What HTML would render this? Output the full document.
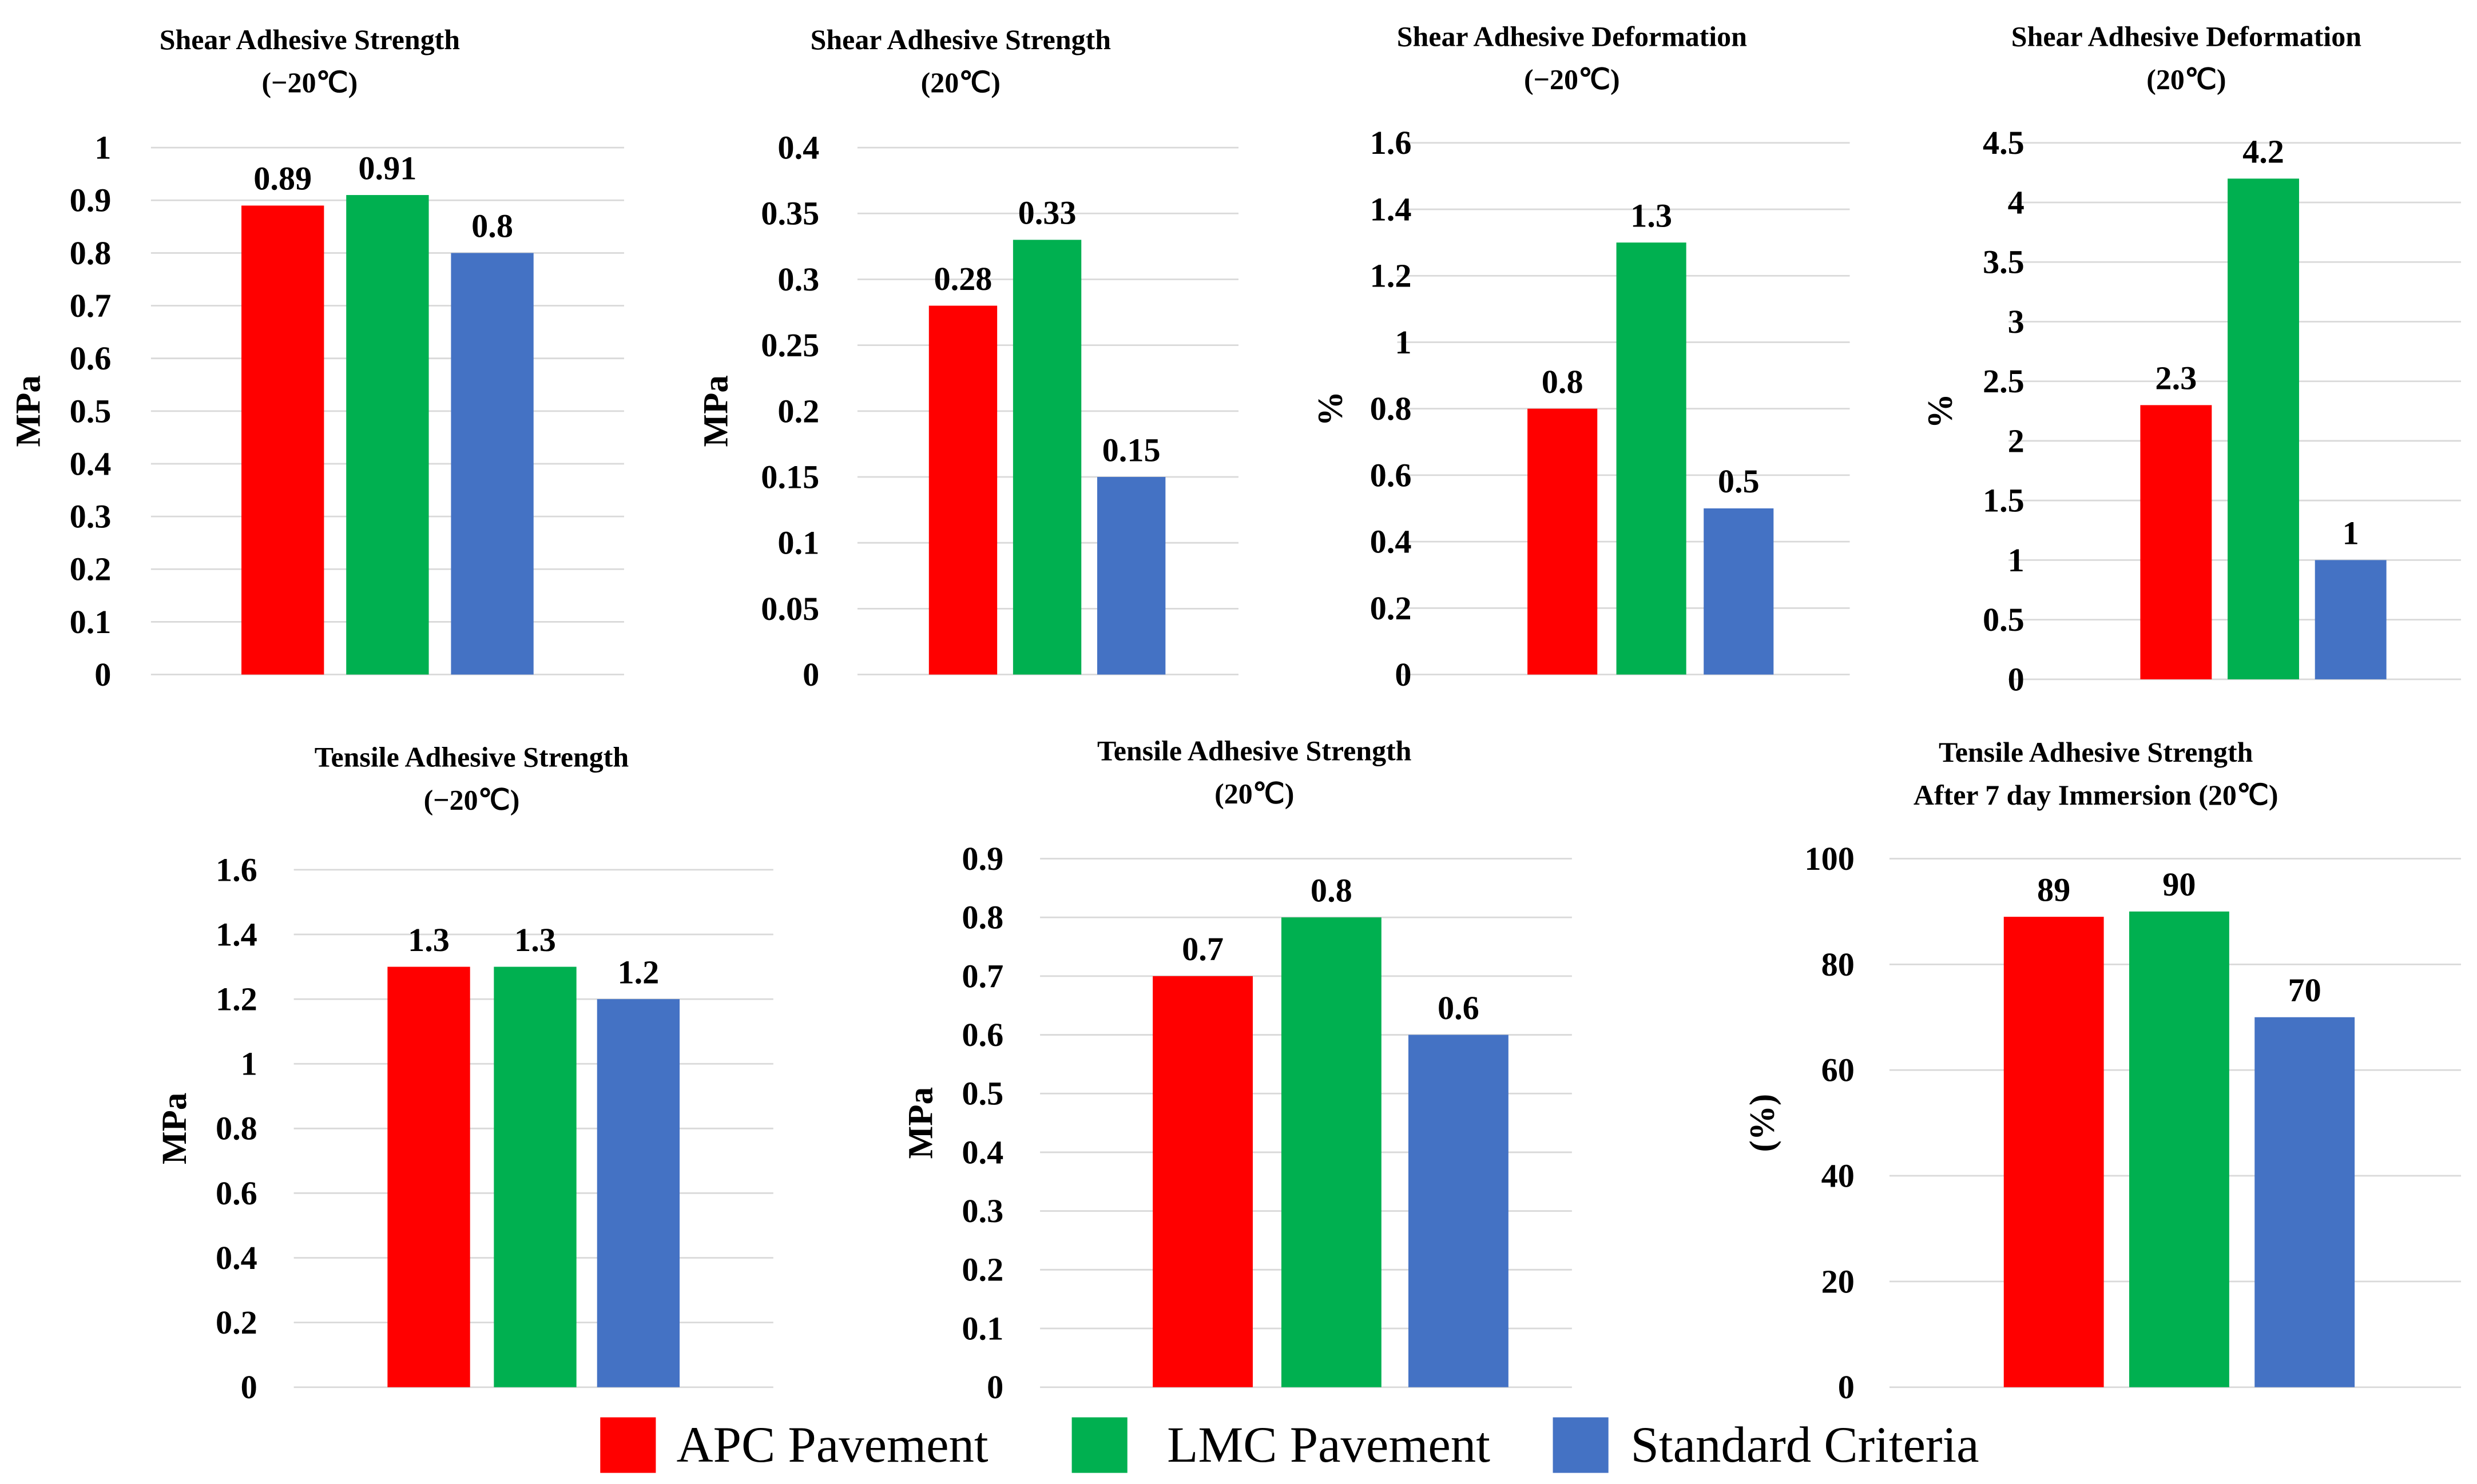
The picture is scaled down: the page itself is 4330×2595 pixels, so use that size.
<!DOCTYPE html>
<html><head><meta charset="utf-8"><style>
html,body{margin:0;padding:0;background:#fff}
svg{display:block;font-family:"Liberation Serif",serif}
</style></head><body>
<svg id="s" width="4330" height="2595" viewBox="0 0 1560 935" xmlns="http://www.w3.org/2000/svg"></svg>
<script>
const seriesNames = ["APC Pavement","LMC Pavement","Standard Criteria"];
const colors = ["#ff0000","#00b050","#4472c4"];
const c1Values = [0.89,0.91,0.8];
const c1Ticks = ["0","0.1","0.2","0.3","0.4","0.5","0.6","0.7","0.8","0.9","1"];
const c2Values = [0.28,0.33,0.15];
const c2Ticks = ["0","0.05","0.1","0.15","0.2","0.25","0.3","0.35","0.4"];
const c3Values = [0.8,1.3,0.5];
const c3Ticks = ["0","0.2","0.4","0.6","0.8","1","1.2","1.4","1.6"];
const c4Values = [2.3,4.2,1];
const c4Ticks = ["0","0.5","1","1.5","2","2.5","3","3.5","4","4.5"];
const c5Values = [1.3,1.3,1.2];
const c5Ticks = ["0","0.2","0.4","0.6","0.8","1","1.2","1.4","1.6"];
const c6Values = [0.7,0.8,0.6];
const c6Ticks = ["0","0.1","0.2","0.3","0.4","0.5","0.6","0.7","0.8","0.9"];
const c7Values = [89,90,70];
const c7Ticks = ["0","20","40","60","80","100"];

const charts = [
 {name:"shear-strength-minus20",t:["Shear Adhesive Strength","(−20℃)"],tx:195,ty:25,v:c1Values,ticks:c1Ticks,y0:425,y1:93,gx0:95,gx1:393,bx:[152,218,284],bw:52,lr:70,yl:"MPa",ylx:20},
 {name:"shear-strength-20",t:["Shear Adhesive Strength","(20℃)"],tx:605,ty:25,v:c2Values,ticks:c2Ticks,y0:425,y1:93,gx0:540,gx1:780,bx:[585,638,691],bw:43,lr:516,yl:"MPa",ylx:453},
 {name:"shear-deformation-minus20",t:["Shear Adhesive Deformation","(−20℃)"],tx:990,ty:23,v:c3Values,ticks:c3Ticks,y0:425,y1:90,gx0:880,gx1:1165,bx:[962,1018,1073],bw:44,lr:889,yl:"%",ylx:840},
 {name:"shear-deformation-20",t:["Shear Adhesive Deformation","(20℃)"],tx:1377,ty:23,v:c4Values,ticks:c4Ticks,y0:428,y1:90,gx0:1265,gx1:1550,bx:[1348,1403,1458],bw:45,lr:1275,yl:"%",ylx:1224},
 {name:"tensile-strength-minus20",t:["Tensile Adhesive Strength","(−20℃)"],tx:297,ty:477,v:c5Values,ticks:c5Ticks,y0:874,y1:548,gx0:185,gx1:487,bx:[244,311,376],bw:52,lr:162,yl:"MPa",ylx:112},
 {name:"tensile-strength-20",t:["Tensile Adhesive Strength","(20℃)"],tx:790,ty:473,v:c6Values,ticks:c6Ticks,y0:874,y1:541,gx0:655,gx1:990,bx:[726,807,887],bw:63,lr:632,yl:"MPa",ylx:582},
 {name:"tensile-strength-immersion",t:["Tensile Adhesive Strength","After 7 day Immersion (20℃)"],tx:1320,ty:474,v:c7Values,ticks:c7Ticks,y0:874,y1:541,gx0:1190,gx1:1550,bx:[1262,1341,1420],bw:63,lr:1168,yl:"(%)",ylx:1112}
];
const NS="http://www.w3.org/2000/svg", svg=document.getElementById('s');
function mk(tag,attrs,parent,text){const e=document.createElementNS(NS,tag);for(const k in attrs)e.setAttribute(k,attrs[k]);if(text!==undefined)e.textContent=text;parent.appendChild(e);return e;}
charts.forEach(c=>{
 const g=mk('g',{},svg);
 
 
 const max=parseFloat(c.ticks[c.ticks.length-1]);
 const y=v=>c.y0-(v/max)*(c.y0-c.y1);
 c.ticks.forEach(t=>{
  const yy=y(parseFloat(t));
  const gl=mk('line',{x1:c.gx0,x2:c.gx1,y1:yy,y2:yy,stroke:'#d9d9d9','stroke-width':1},g);
  
  
  const tl=mk('text',{x:c.lr,y:yy+7,'text-anchor':'end','font-size':21,'font-weight':'bold',fill:'#000'},g,t);
  
  
 });
 c.v.forEach((v,i)=>{
  const b=mk('rect',{x:c.bx[i],y:y(v),width:c.bw,height:c.y0-y(v),fill:colors[i]},g);
  
  
  const l=mk('text',{x:c.bx[i]+c.bw/2,y:y(v)-10,'text-anchor':'middle','font-size':21,'font-weight':'bold'},g,String(v));
  
  
 });
 const mid=(c.y0+c.y1)/2;
 const yt=mk('text',{x:c.ylx,y:mid,'text-anchor':'middle','font-size':22,'font-weight':'bold',transform:`rotate(-90 ${c.ylx} ${mid})`,'dominant-baseline':'middle'},g,c.yl);
 
 
 c.t.forEach((s,i)=>{
  const tt=mk('text',{x:c.tx,y:c.ty+6+i*27,'text-anchor':'middle','font-size':18,'font-weight':'bold'},g,s);
  
  
 });
});
const legX=[378,675,978], legT=[426,735,1027];
seriesNames.forEach((n,i)=>{
 const r=mk('rect',{x:legX[i],y:893,width:35,height:35,fill:colors[i]},svg);
 
 
 const t=mk('text',{x:legT[i],y:921,'font-size':32},svg,n);
 
 
});
</script>
</body></html>
